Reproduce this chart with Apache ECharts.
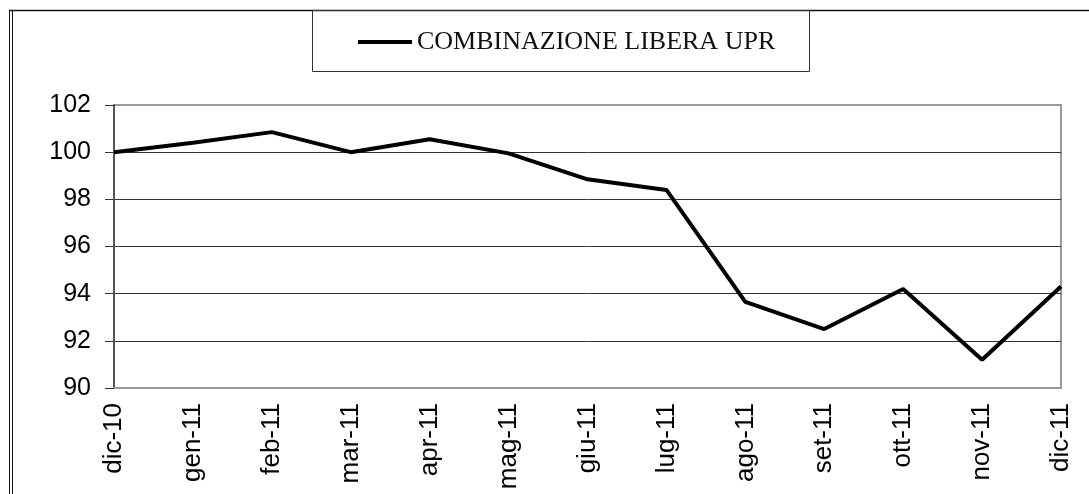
<!DOCTYPE html>
<html>
<head>
<meta charset="utf-8">
<script src="https://cdn.jsdelivr.net/npm/echarts@6/dist/echarts.min.js"></script>
<style>
html,body{margin:0;padding:0;background:#fff;}
#chart{width:1089px;height:494px;}
</style>
</head>
<body>
<div id="chart"></div>
<script>
const categories = ['dic-10','gen-11','feb-11','mar-11','apr-11','mag-11','giu-11','lug-11','ago-11','set-11','ott-11','nov-11','dic-11'];
const seriesName = 'COMBINAZIONE LIBERA UPR';
const values = [100.0, 100.4, 100.85, 100.0, 100.55, 99.95, 98.85, 98.4, 93.65, 92.5, 94.2, 91.2, 94.3];
const yMin = 90, yMax = 102, yStep = 2;

const chart = echarts.init(document.getElementById('chart'), null, {renderer:'canvas'});
chart.setOption({
  animation: false,
  backgroundColor: '#fff',
  grid: {left: 114, right: 28, top: 105, bottom: 106, show: true, borderColor: '#999', borderWidth: 2, backgroundColor: 'transparent'},
  legend: {
    data: [{name: seriesName, icon: 'rect'}],
    left: 353, top: 24,
    itemWidth: 54, itemHeight: 4, itemGap: 4,
    textStyle: {fontFamily: 'Liberation Serif', fontSize: 26, color: '#111'},
    selectedMode: false
  },
  graphic: [
    {type: 'rect', shape: {x: 312.5, y: 10.5, width: 497, height: 61}, style: {fill: 'none', stroke: '#333', lineWidth: 1}, z: 1},
    {type: 'line', shape: {x1: 9, y1: 10.5, x2: 1089, y2: 10.5}, style: {stroke: '#111', lineWidth: 1.5}},
    {type: 'line', shape: {x1: 9.5, y1: 10, x2: 9.5, y2: 494}, style: {stroke: '#111', lineWidth: 1}},
    {type: 'line', shape: {x1: 12.5, y1: 10, x2: 12.5, y2: 494}, style: {stroke: '#111', lineWidth: 1}}
  ],
  xAxis: {
    type: 'category',
    data: categories,
    boundaryGap: false,
    axisLine: {lineStyle: {color: '#999', width: 2}},
    axisTick: {show: false},
    axisLabel: {rotate: 90, margin: 15, fontFamily: 'Liberation Sans', fontSize: 26, color: '#000', interval: 0},
    splitLine: {show: false}
  },
  yAxis: {
    type: 'value',
    min: yMin, max: yMax, interval: yStep,
    axisLine: {show: true, lineStyle: {color: '#555', width: 2}},
    axisTick: {show: true, length: 9, lineStyle: {color: '#333', width: 1}},
    axisLabel: {margin: 23, fontFamily: 'Liberation Sans', fontSize: 25, color: '#000'},
    splitLine: {show: true, showMinLine: false, showMaxLine: false, lineStyle: {color: '#333', width: 1}}
  },
  series: [{
    name: seriesName,
    type: 'line',
    data: values,
    symbol: 'none',
    lineStyle: {color: '#000', width: 4},
    itemStyle: {color: '#000'}
  }]
});
</script>
</body>
</html>
